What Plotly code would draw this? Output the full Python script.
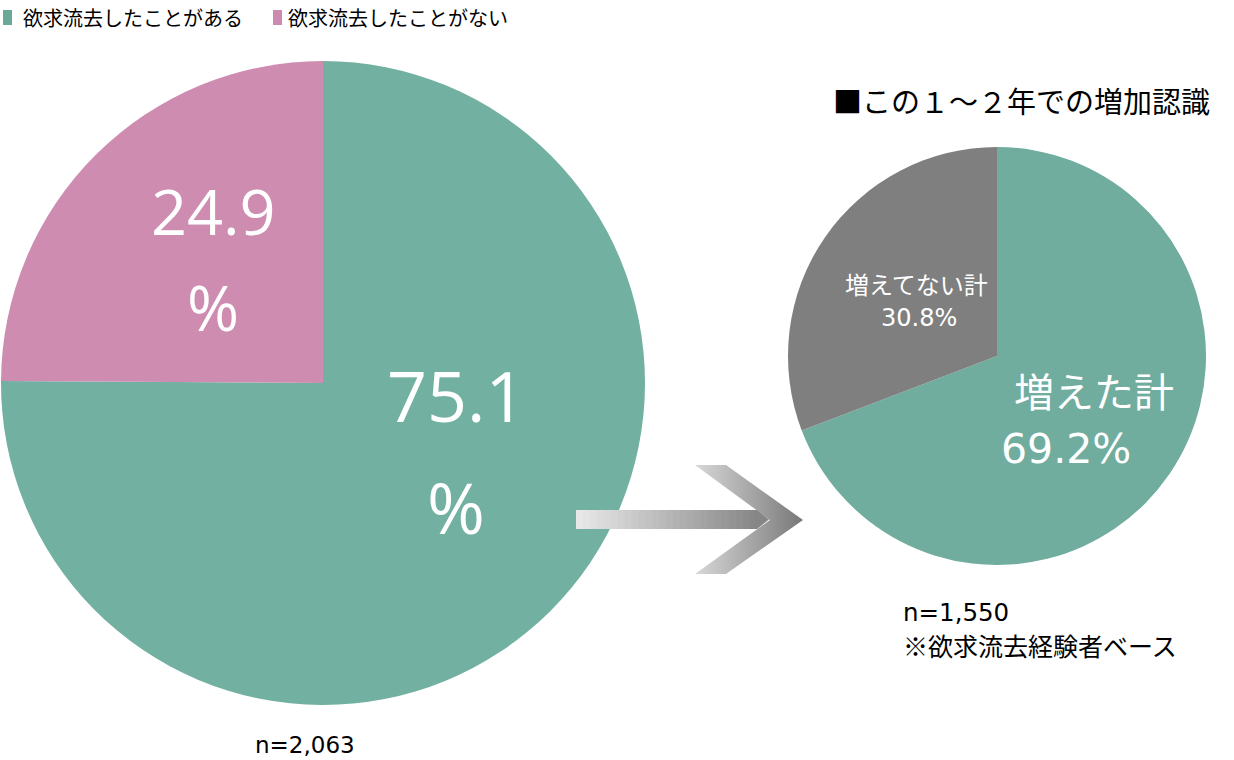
import plotly.graph_objects as go

# ---- data ----
main_labels = ["欲求流去したことがある", "欲求流去したことがない"]
main_values = [75.1, 24.9]
main_colors = ["#72b0a2", "#cd8cb0"]
main_n = "n=2,063"

sub_labels = ["増えた計", "増えてない計"]
sub_values = [69.2, 30.8]
sub_colors = ["#70ad9f", "#7f7f7f"]
sub_n = "n=1,550"
sub_base = "※欲求流去経験者ベース"
sub_title = "■この１～２年での増加認識"

W, H = 1234, 760


def dom(cx, cy, r):
    return dict(x=[(cx - r) / W, (cx + r) / W], y=[1 - (cy + r) / H, 1 - (cy - r) / H])


fig = go.Figure()

fig.add_trace(go.Pie(
    labels=main_labels, values=main_values, sort=False, direction="clockwise", rotation=0,
    marker=dict(colors=main_colors, line=dict(width=0)),
    textinfo="none", hoverinfo="skip", domain=dom(323, 383, 322), showlegend=False,
))
fig.add_trace(go.Pie(
    labels=sub_labels, values=sub_values, sort=False, direction="clockwise", rotation=0,
    marker=dict(colors=sub_colors, line=dict(width=0)),
    textinfo="none", hoverinfo="skip", domain=dom(997, 356, 209), showlegend=False,
))

# ---- decorative arrow head (pixel-space overlay axes) ----
fig.add_trace(go.Scatter(
    x=[695, 726, 803, 726, 695, 770, 695], y=[465, 465, 520, 574, 574, 520, 465], mode="lines",
    line=dict(width=0), fill="toself",
    fillgradient=dict(type="horizontal", colorscale=[[0, "#d8d8d8"], [1, "#787878"]]),
    hoverinfo="skip", showlegend=False,
))

shapes = []
# arrow shaft drawn above the pie, as a stepped grey gradient
x0, x1, n = 576, 756, 26
for i in range(n):
    t = i / (n - 1)
    g = int(round(0xe8 + (0x88 - 0xe8) * t))
    xa = x0 + (x1 - x0) * i / n
    xb = x0 + (x1 - x0) * (i + 1) / n + 0.6
    shapes.append(dict(type="rect", xref="x", yref="y", x0=xa, x1=xb, y0=510, y1=529,
                       fillcolor=f"rgb({g},{g},{g})", line=dict(width=0), layer="above"))
shapes.append(dict(type="path", xref="x", yref="y", layer="above",
                   path="M 755,510 L 757,510 L 769,519.5 L 757,529 L 755,529 Z",
                   fillcolor="rgb(134,134,134)", line=dict(width=0)))

# legend squares
shapes.append(dict(type="rect", xref="x", yref="y", x0=3, x1=12, y0=10, y1=25,
                   fillcolor="#6aa898", line=dict(width=0)))
shapes.append(dict(type="rect", xref="x", yref="y", x0=273, x1=282, y0=10, y1=25,
                   fillcolor="#cc8aae", line=dict(width=0)))

ann = []
def txt(x, y, s, size, color="white", family="Open Sans", xanchor="center"):
    ann.append(dict(x=x, y=y, xref="x", yref="y", text=s, showarrow=False, xanchor=xanchor,
                    yanchor="middle", font=dict(size=size, color=color, family=family)))

txt(21, 17, main_labels[0], 20, color="black", family="Noto Sans CJK JP", xanchor="left")
txt(286, 17, main_labels[1], 20, color="black", family="Noto Sans CJK JP", xanchor="left")

txt(456, 395, f"{main_values[0]}", 70)
txt(456, 507, "%", 70)
txt(213, 210, f"{main_values[1]}", 63)
txt(213, 306, "%", 63)

txt(1094, 390, sub_labels[0], 40, family="Noto Sans CJK JP")
txt(1066, 449, f"{sub_values[0]}%", 41, family="DejaVu Sans")
txt(916, 283, sub_labels[1], 24, family="Noto Sans CJK JP")
txt(919, 318, f"{sub_values[1]}%", 24, family="DejaVu Sans")

txt(831, 100, sub_title, 29, color="black", family="Noto Sans CJK JP", xanchor="left")
txt(901, 612, sub_n, 24.5, color="black", family="DejaVu Sans", xanchor="left")
txt(901, 645, sub_base, 25, color="black", family="Noto Sans CJK JP", xanchor="left")
txt(253, 745, main_n, 23, color="black", family="DejaVu Sans", xanchor="left")

fig.update_layout(
    width=W, height=H, margin=dict(l=0, r=0, t=0, b=0),
    paper_bgcolor="white", plot_bgcolor="rgba(0,0,0,0)",
    xaxis=dict(range=[0, W], visible=False, domain=[0, 1], fixedrange=True),
    yaxis=dict(range=[H, 0], visible=False, domain=[0, 1], fixedrange=True),
    showlegend=False,
    annotations=ann,
    shapes=shapes,
)

fig.write_html("out.html", config={"displayModeBar": False},
               post_script="document.body.style.margin='0';document.body.style.overflow='hidden';")
